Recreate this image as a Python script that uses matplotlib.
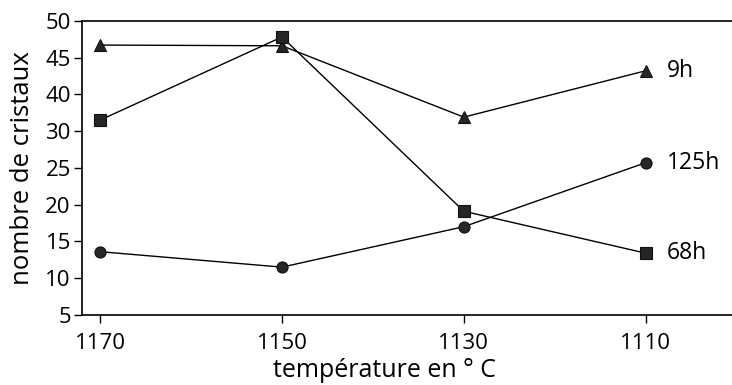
# nombre de cristaux vs temperature, three durations
import matplotlib
matplotlib.use('Agg')
from matplotlib import pyplot as plt

plt.rcParams['font.family'] = ['Open Sans', 'DejaVu Sans']

temperatures = [1170, 1150, 1130, 1110]

# y values are in axis position units (the printed scale skips "35")
crystals_9h = [41.7, 41.6, 31.9, 38.2]
crystals_68h = [31.5, 42.8, 19.1, 13.4]
crystals_125h = [13.6, 11.5, 17.0, 25.7]

ytick_pos = [5, 10, 15, 20, 25, 30, 35, 40, 45]
ytick_labels = ['5', '10', '15', '20', '25', '30', '40', '45', '50']

series = [
    ('9h', crystals_9h, '^'),
    ('68h', crystals_68h, 's'),
    ('125h', crystals_125h, 'o'),
]

fig = plt.figure(figsize=(7.32, 3.85), dpi=100)
ax = fig.add_axes([0.112, 0.182, 0.888, 0.764])

for name, vals, mk in series:
    ax.plot(temperatures, vals, color='black', linewidth=1.0,
            marker=mk, markersize=8, markerfacecolor='#262626',
            markeredgecolor='#111111', markeredgewidth=0.8)
    ax.annotate(name, (temperatures[-1], vals[-1]), xytext=(15, 0),
                textcoords='offset points', va='center', ha='left',
                fontsize=16.5)

ax.set_xlim(1172, 1100.5)
ax.set_ylim(5, 45)
ax.set_xticks(temperatures)
ax.set_xticklabels([str(t) for t in temperatures])
ax.set_yticks(ytick_pos)
ax.set_yticklabels(ytick_labels)
ax.tick_params(axis='both', labelsize=16, length=6, width=1.0, color='black')
ax.tick_params(axis='y', pad=2)
ax.tick_params(axis='x', pad=7)

for s in ['left', 'top', 'bottom']:
    ax.spines[s].set_linewidth(1.2)
ax.spines['right'].set_visible(False)

ax.set_xlabel('température en ° C', fontsize=18)
ax.xaxis.set_label_coords(0.466, -0.148)
ax.set_ylabel('nombre de cristaux', fontsize=18.5)
ax.yaxis.set_label_coords(-0.072, 0.5)

fig.savefig('out.png', dpi=100)
